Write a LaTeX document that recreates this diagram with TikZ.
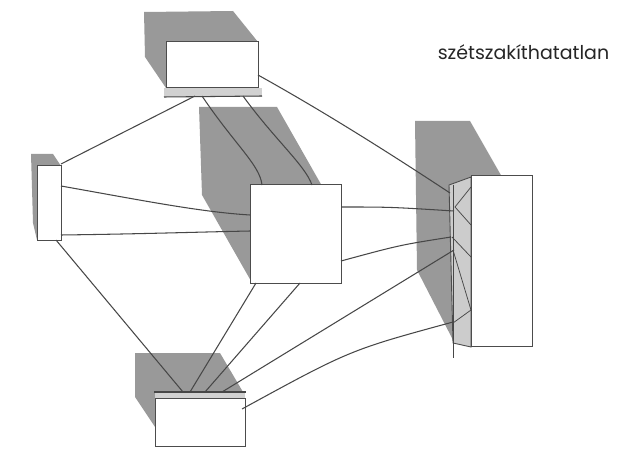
\documentclass[tikz,border=0pt]{standalone}
\usepackage{fontspec}
\newfontfamily\labelfont{Poppins}
\begin{document}
\begin{tikzpicture}[x=1pt,y=-1pt,
  shadowfill/.style={fill=black!40, draw=none},
  facefill/.style={fill=black!20, draw=black!70, line width=0.9pt},
  boxstyle/.style={fill=white, draw=black!70, line width=1pt, rectangle, inner sep=0pt},
  conn/.style={draw=black!72, line width=1.05pt},
  lbl/.style={font=\labelfont\fontsize{19}{22}\selectfont, text=black!85, inner sep=0pt}]
\useasboundingbox[fill=white] (0,0) rectangle (634,449);

% shadows
\fill[shadowfill] (144,12) -- (233,11) -- (258,42) -- (166,88) -- (145,57) -- cycle;
\fill[shadowfill] (31,154) -- (53,154) -- (61,166) -- (37,240) -- (33,223) -- cycle;
\fill[shadowfill] (199,107) -- (277,107) -- (322,186) -- (250,186) -- (251,281) -- (202,195) -- cycle;
\fill[shadowfill] (415,121) -- (470,121) -- (502,177) -- (452,185) -- (453,340) -- (417,270) -- cycle;
\fill[shadowfill] (135,353) -- (220,353) -- (243,392) -- (155,392) -- (155,427) -- (135,397) -- cycle;

% side faces / strips
\path[facefill] (449,185) -- (471,177) -- (471,347) -- (453,343) -- cycle;
\path[fill=black!18] (164,88) rectangle (262,97);
\draw[conn] (164,97) -- (262,96);
\path[fill=black!18] (155,392) rectangle (245,398);
\draw[conn] (154,392) -- (246,392);

% boxes
\node[boxstyle, minimum width=92pt, minimum height=46pt] (top) at (212,65) {};
\node[boxstyle, minimum width=24pt, minimum height=74pt] (left) at (49,203) {};
\node[boxstyle, minimum width=91pt, minimum height=98pt] (mid) at (295.5,234) {};
\node[boxstyle, minimum width=61pt, minimum height=170pt] (right) at (501.5,261) {};
\node[boxstyle, minimum width=90pt, minimum height=48pt] (bot) at (200,422) {};

\node[lbl, anchor=base] (title) at (523.5,60) {szétszakíthatatlan};

% connector endpoints
\coordinate (t1) at (195,96);
\coordinate (t2) at (202,96);
\coordinate (t3) at (243,96);
\coordinate (t4) at (258,75);
\coordinate (l1) at (61,164);
\coordinate (l2) at (61,186);
\coordinate (l3) at (61,235);
\coordinate (l4) at (56,240);
\coordinate (m1) at (262,185);
\coordinate (m2) at (312,185);
\coordinate (m3) at (250,215);
\coordinate (m4) at (250,231);
\coordinate (m5) at (341,207);
\coordinate (m6) at (341,261);
\coordinate (m7) at (256,283);
\coordinate (m8) at (300,283);
\coordinate (r1) at (450,193);
\coordinate (r2) at (454,211);
\coordinate (r3) at (451,237);
\coordinate (r4) at (454,250);
\coordinate (r5) at (453,322);
\coordinate (b1) at (183,392);
\coordinate (b2) at (190,392);
\coordinate (b3) at (205,392);
\coordinate (b4) at (222,392);
\coordinate (b5) at (242,409);

% connectors
\draw[conn] (t1) -- (l1);
\draw[conn] (t2) .. controls (235,145) and (260,165) .. (m1);
\draw[conn] (t3) .. controls (275,140) and (305,165) .. (m2);
\draw[conn] (t4) .. controls (330,115) and (400,160) .. (r1);
\draw[conn] (l2) .. controls (140,200) and (200,212) .. (m3);
\draw[conn] (l3) .. controls (140,234) and (200,232) .. (m4);
\draw[conn] (l4) -- (b1);
\draw[conn] (m5) .. controls (390,207) .. (r2);
\draw[conn] (m6) .. controls (400,245) .. (r3);
\draw[conn] (m7) -- (b2);
\draw[conn] (m8) -- (b3);
\draw[conn] (r4) -- (b4);
\draw[conn] (r5) .. controls (350,350) .. (b5);

% lines across the side face of the right box
\draw[conn, line width=0.75pt] (455,207) -- (471,187);
\draw[conn, line width=0.75pt] (455,207) -- (471,225);
\draw[conn, line width=0.75pt] (452,237) -- (471,257);
\draw[conn, line width=0.75pt] (453,250) -- (471,310);
\draw[conn, line width=0.75pt] (453,323) -- (471,310);
\draw[conn, line width=0.75pt] (453,185) -- (453,358);
\end{tikzpicture}
\end{document}
